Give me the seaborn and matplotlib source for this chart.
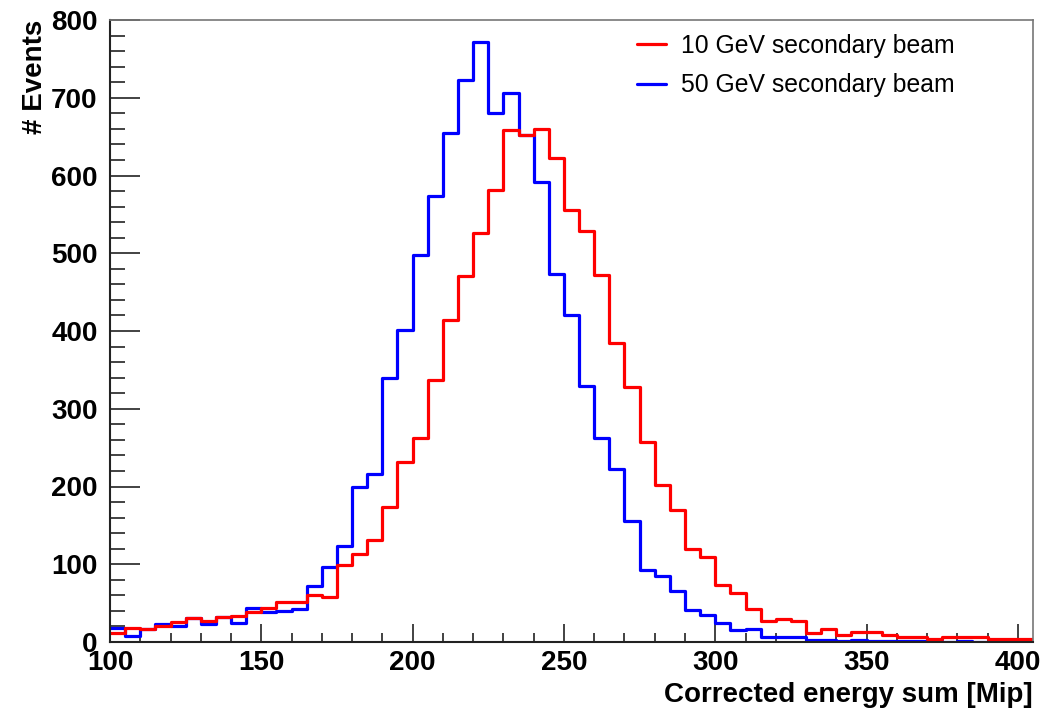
import numpy as np
import pandas as pd
import matplotlib
matplotlib.use("Agg")
import matplotlib.pyplot as plt
from matplotlib.lines import Line2D
from matplotlib.ticker import MultipleLocator
import seaborn as sns

# ---- data (bin width 5 Mip, bins start at 100) ----
bin_lo = list(range(100, 405, 5))
counts_10gev = [11, 18, 17, 21, 26, 31, 27, 32, 34, 39, 44, 52, 52, 61, 58,
                99, 113, 131, 173, 231, 263, 337, 414, 471, 526, 581, 658, 652, 660, 622,
                555, 529, 472, 384, 328, 257, 202, 170, 119, 109, 73, 63, 42, 27, 30,
                27, 12, 17, 9, 13, 13, 9, 7, 7, 4, 7, 7, 7, 4, 4, 4]
counts_50gev = [18, 8, 17, 23, 21, 31, 23, 32, 25, 44, 38, 40, 42, 72, 96,
                123, 199, 216, 339, 401, 498, 573, 655, 723, 772, 681, 706, 652, 591, 473,
                421, 329, 263, 222, 155, 93, 85, 65, 41, 35, 25, 15, 17, 6, 6,
                6, 2, 2, 1, 2, 1, 1, 1, 1, 1, 0, 1, 0, 0, 1, 0]
labels = ["10 GeV secondary beam", "50 GeV secondary beam"]
colors = ["#ff0000", "#0000ff"]

edges = [float(e) for e in range(100, 410, 5)]
centers = [b + 2.5 for b in bin_lo]

sns.set_style("ticks")
plt.rcParams["font.family"] = ["Liberation Sans", "DejaVu Sans"]
plt.rcParams["text.color"] = "black"
plt.rcParams["axes.labelcolor"] = "black"
plt.rcParams["xtick.color"] = "black"
plt.rcParams["ytick.color"] = "black"

fig = plt.figure(figsize=(10.45, 7.09), dpi=100)
ax = fig.add_axes([110 / 1045, 1 - 642 / 709, (1033 - 110) / 1045, (642 - 20) / 709])

df10 = pd.DataFrame({"energy": centers, "n": counts_10gev})
df50 = pd.DataFrame({"energy": centers, "n": counts_50gev})

sns.histplot(data=df50, x="energy", weights="n", bins=edges, element="step",
             fill=False, color=colors[1], linewidth=2.3, ax=ax)
sns.histplot(data=df10, x="energy", weights="n", bins=edges, element="step",
             fill=False, color=colors[0], linewidth=2.3, ax=ax)

ax.set_xlim(100, 405)
ax.set_ylim(0, 800)

ax.xaxis.set_major_locator(MultipleLocator(50))
ax.xaxis.set_minor_locator(MultipleLocator(10))
ax.yaxis.set_major_locator(MultipleLocator(100))
ax.yaxis.set_minor_locator(MultipleLocator(20))

ax.tick_params(axis="x", which="major", direction="in", length=13, width=1.2,
               labelsize=20, pad=6, color="#222222", labelcolor="black", top=False)
ax.tick_params(axis="x", which="minor", direction="in", length=6.5, width=1.2,
               color="#222222", top=False)
ax.tick_params(axis="y", which="major", direction="in", length=21.5, width=1.2,
               labelsize=20, pad=9, color="#222222", labelcolor="black", right=False)
ax.tick_params(axis="y", which="minor", direction="in", length=10.8, width=1.2,
               color="#222222", right=False)
for lab in ax.get_xticklabels() + ax.get_yticklabels():
    lab.set_fontweight("bold")

for side in ["left", "bottom"]:
    ax.spines[side].set_color("#222222")
    ax.spines[side].set_linewidth(1.5)
for side in ["top", "right"]:
    ax.spines[side].set_visible(True)
    ax.spines[side].set_color("#777777")
    ax.spines[side].set_linewidth(1.2)

ax.set_xlabel("Corrected energy sum [Mip]", fontsize=20, fontweight="bold",
              loc="right", labelpad=4, color="black")
ax.set_ylabel("# Events", fontsize=20, fontweight="bold", loc="top", labelpad=2,
              color="black")

handles = [Line2D([0], [0], color=c, lw=2.3) for c in colors]
leg = ax.legend(handles, labels, loc="upper left", bbox_to_anchor=(0.5547, 1.002),
                frameon=False, fontsize=17.8, handlelength=1.17, handletextpad=0.6,
                labelspacing=0.64, borderaxespad=0.2)
for t in leg.get_texts():
    t.set_color("black")

fig.savefig("out.png", dpi=100, facecolor="white")
